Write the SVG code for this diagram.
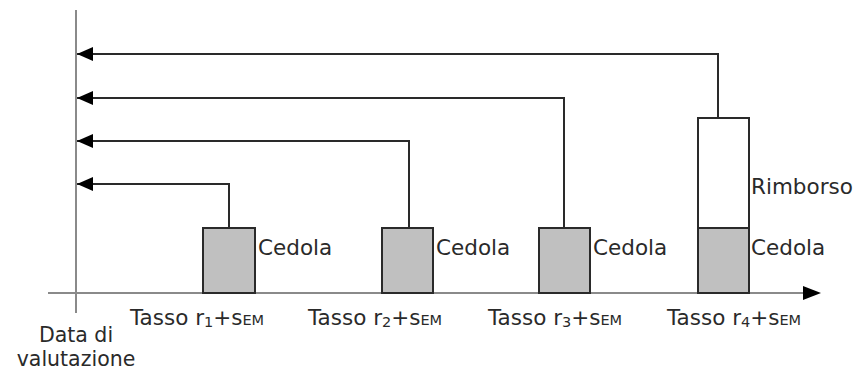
<svg xmlns="http://www.w3.org/2000/svg" width="859" height="370" viewBox="0 0 859 370">
<style>
text{font-family:"DejaVu Sans",Verdana,sans-serif;font-size:21.5px;fill:#2a2a2a}
.sub{font-size:14.5px}
.dv{font-size:20.5px}
.axis{stroke:#8a8a8a;stroke-width:2;fill:none}
.conn{stroke:#2a2a2a;stroke-width:2;fill:none}
.bar{fill:#c0c0c0;stroke:#2a2a2a;stroke-width:2}
.box{fill:#fff;stroke:#2a2a2a;stroke-width:2}
</style>
<defs>
<marker id="ah" markerWidth="16" markerHeight="14" refX="16" refY="7" orient="auto" markerUnits="userSpaceOnUse">
<path d="M0,0 L16,7 L0,14 Z" fill="#000"/>
</marker>
</defs>
<g id="axes">
<line class="axis" x1="76" y1="10" x2="76" y2="313"/>
<line class="axis" x1="48" y1="293" x2="804" y2="293"/>
<path d="M803,286 L821,293 L803,300 Z" fill="#000"/>
</g>
<g id="connectors">
<path class="conn" d="M229,228 V184 H77" marker-end="url(#ah)"/>
<path class="conn" d="M409,228 V141 H77" marker-end="url(#ah)"/>
<path class="conn" d="M564,228 V98 H77" marker-end="url(#ah)"/>
<path class="conn" d="M718,118 V54 H77" marker-end="url(#ah)"/>
</g>
<g id="cedola1">
<rect class="bar" x="203" y="228" width="52" height="65"/>
<text x="258" y="255">Cedola</text>
</g>
<g id="cedola2">
<rect class="bar" x="382" y="228" width="51" height="65"/>
<text x="436" y="255">Cedola</text>
</g>
<g id="cedola3">
<rect class="bar" x="539" y="228" width="51" height="65"/>
<text x="593" y="255">Cedola</text>
</g>
<g id="cedola4">
<rect class="bar" x="698" y="228" width="51" height="65"/>
<text x="751" y="255">Cedola</text>
</g>
<g id="rimborso">
<rect class="box" x="698" y="118" width="51" height="110"/>
<text x="751" y="194">Rimborso</text>
</g>
<g id="labels">
<text x="130" y="325">Tasso r<tspan class="sub" dy="2">1</tspan><tspan dy="-2">+s</tspan><tspan class="sub">EM</tspan></text>
<text x="308" y="325">Tasso r<tspan class="sub" dy="2">2</tspan><tspan dy="-2">+s</tspan><tspan class="sub">EM</tspan></text>
<text x="488" y="325">Tasso r<tspan class="sub" dy="2">3</tspan><tspan dy="-2">+s</tspan><tspan class="sub">EM</tspan></text>
<text x="667" y="325">Tasso r<tspan class="sub" dy="2">4</tspan><tspan dy="-2">+s</tspan><tspan class="sub">EM</tspan></text>
</g>
<g id="data-valutazione">
<text class="dv" x="76" y="342" text-anchor="middle">Data di</text>
<text class="dv" x="76" y="366" text-anchor="middle">valutazione</text>
</g>
</svg>
